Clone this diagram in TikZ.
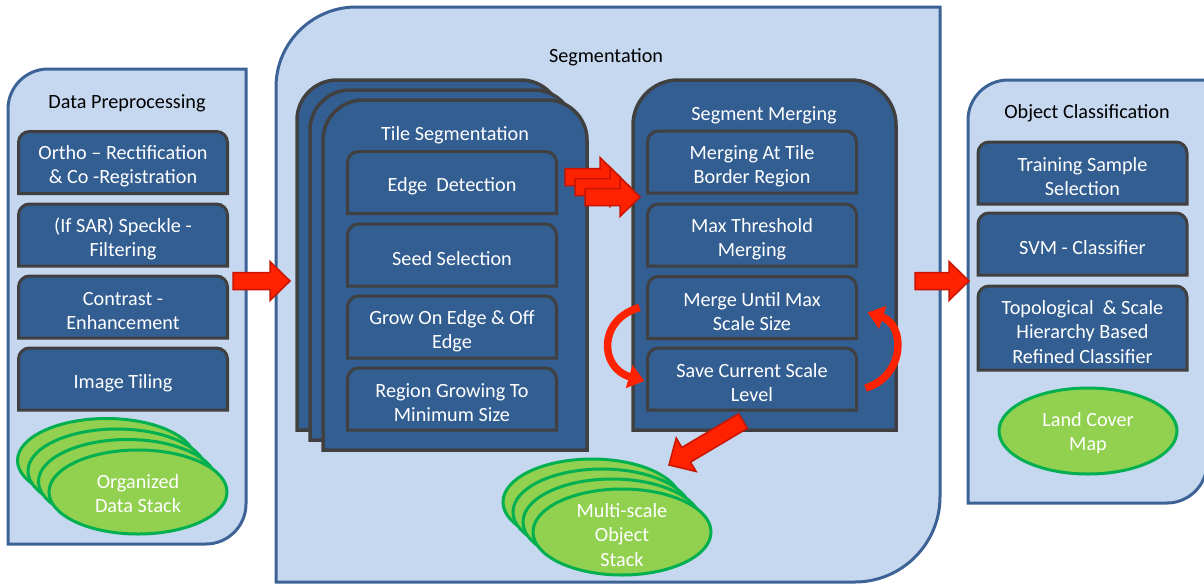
\documentclass[tikz,border=0pt]{standalone}
\usepackage{fontspec}
\setmainfont{Carlito}
\usepackage{xcolor}
\usetikzlibrary{calc, arrows.meta}

\definecolor{panelfill}{HTML}{C6D8EF}
\definecolor{panelline}{HTML}{3D6396}
\definecolor{boxfill}{HTML}{335E92}
\definecolor{boxline}{HTML}{404040}
\definecolor{stackfill}{HTML}{92D050}
\definecolor{stackline}{HTML}{00B050}
\definecolor{arrowfill}{HTML}{FF2200}
\definecolor{arrowline}{HTML}{C81400}

\newcommand{\pxu}{0.02cm}

\pgfdeclarelayer{panels}
\pgfdeclarelayer{stacks}
\pgfdeclarelayer{boxes}
\pgfsetlayers{panels,stacks,boxes,main}

% Outline of a node, lifted by [#1] px, with a radius (px) at each corner: tl, tr, br, bl
\newcommand{\cornershape}[7][0]{%
  \draw[#2]
    ([yshift=(#1-#4)*\pxu]#3.north west)
      .. controls ([yshift=(#1-0.45*#4)*\pxu]#3.north west) and ([xshift=0.45*#4*\pxu, yshift=#1*\pxu]#3.north west) .. ([xshift=#4*\pxu, yshift=#1*\pxu]#3.north west)
    -- ([xshift=-#5*\pxu, yshift=#1*\pxu]#3.north east)
      .. controls ([xshift=-0.45*#5*\pxu, yshift=#1*\pxu]#3.north east) and ([yshift=(#1-0.45*#5)*\pxu]#3.north east) .. ([yshift=(#1-#5)*\pxu]#3.north east)
    -- ([yshift=(#1+#6)*\pxu]#3.south east)
      .. controls ([yshift=(#1+0.45*#6)*\pxu]#3.south east) and ([xshift=-0.45*#6*\pxu, yshift=#1*\pxu]#3.south east) .. ([xshift=-#6*\pxu, yshift=#1*\pxu]#3.south east)
    -- ([xshift=#7*\pxu, yshift=#1*\pxu]#3.south west)
      .. controls ([xshift=0.45*#7*\pxu, yshift=#1*\pxu]#3.south west) and ([yshift=(#1+0.45*#7)*\pxu]#3.south west) .. ([yshift=(#1+#7)*\pxu]#3.south west)
    -- cycle;}

% Fat red arrow from #1 to #2
\newcommand{\blockarrow}[2]{%
  \coordinate (ba_neck) at ($(#2)!0.4cm!(#1)$);
  \draw[blockarr] ($(#1)!0.17cm!90:(#2)$) -- ($(ba_neck)!0.17cm!-90:(#1)$)
    -- ($(ba_neck)!0.39cm!-90:(#1)$) -- (#2) -- ($(ba_neck)!0.39cm!90:(#1)$)
    -- ($(ba_neck)!0.17cm!90:(#1)$) -- ($(#1)!0.17cm!-90:(#2)$) -- cycle;}

\tikzset{
  panelnode/.style={inner sep=0pt, outer sep=0pt},
  boxnode/.style={inner sep=0pt, outer sep=0pt, text=white, align=center,
    minimum width=209*\pxu, minimum height=62*\pxu},
  panel/.style={fill=panelfill, draw=panelline, line width=3*\pxu},
  tilepanel/.style={fill=boxfill, draw=boxline, line width=3.5*\pxu},
  boxshape/.style={fill=boxfill, draw=boxline, line width=3*\pxu},
  stackell/.style={fill=stackfill, draw=stackline, line width=3*\pxu},
  stacklabel/.style={text=white, align=center},
  blockarr/.style={fill=arrowfill, draw=arrowline, line width=1.5*\pxu},
  curvearr/.style={draw=arrowfill, line width=7.5*\pxu, -{Triangle[width=0.46cm, length=0.32cm]}}
}

\begin{document}
\begin{tikzpicture}[x=0.02cm, y=-0.02cm, font=\fontsize{11.5}{13.7}\selectfont]

    \useasboundingbox (0,0) rectangle (1204,586);

    % =========================================================================
    % LEFT: Data Preprocessing
    % =========================================================================
    \node[panelnode, minimum width=238*\pxu, minimum height=475*\pxu] (prep) at (127,306.5) {};
    \begin{pgfonlayer}{panels}
        \cornershape{panel}{prep}{40}{0}{40}{0}
    \end{pgfonlayer}
    \node (prep_title) at (127,103) {Data Preprocessing};

    \node[boxnode] (ortho)    at (123,166.5) {Ortho – Rectification\\\& Co -Registration};
    \node[boxnode] (speckle)  at (123,239)   {(If SAR) Speckle -\\Filtering};
    \node[boxnode] (contrast) at (123,311)   {Contrast -\\Enhancement};
    \node[boxnode] (tiling)   at (123,383)   {Image Tiling};
    \begin{pgfonlayer}{boxes}
        \foreach \b in {ortho, speckle, contrast, tiling}
            {\cornershape[4]{boxshape}{\b}{11}{11}{0}{0}}
    \end{pgfonlayer}

    % Stacked data ellipses
    \foreach \k in {3,2,1,0}
        \draw[stackell] (138-10.5*\k, 492-10.5*\k) ellipse (89 and 42);
    \node[stacklabel] (prep_stack) at (138,494) {Organized\\Data Stack};

    % =========================================================================
    % MIDDLE: Segmentation
    % =========================================================================
    \node[panelnode, minimum width=664*\pxu, minimum height=575*\pxu] (seg) at (608,294.5) {};
    \begin{pgfonlayer}{panels}
        \cornershape{panel}{seg}{80}{0}{85}{0}
    \end{pgfonlayer}
    \node (seg_title) at (606,57) {Segmentation};

    % Tile Segmentation (three stacked sheets)
    \foreach \k/\name in {2/tile_back, 1/tile_mid, 0/tile}
        \node[panelnode, minimum width=264*\pxu, minimum height=350*\pxu] (\name) at (455-13*\k, 275-10*\k) {};
    \begin{pgfonlayer}{stacks}
        \foreach \name in {tile_back, tile_mid, tile}
            {\cornershape{tilepanel}{\name}{40}{40}{0}{0}}
    \end{pgfonlayer}
    \node[text=white] (tile_title) at (455,135) {Tile Segmentation};

    \node[boxnode] (edge)   at (452,186.5) {Edge~ Detection};
    \node[boxnode] (seed)   at (452,259)   {Seed Selection};
    \node[boxnode] (grow)   at (452,331)   {Grow On Edge \& Off\\Edge};
    \node[boxnode] (region) at (452,403)   {Region Growing To\\Minimum Size};

    % Segment Merging
    \node[panelnode, minimum width=263*\pxu, minimum height=350*\pxu] (merge) at (764.5,255) {};
    \begin{pgfonlayer}{stacks}
        \cornershape{tilepanel}{merge}{45}{45}{0}{0}
    \end{pgfonlayer}
    \node[text=white] (merge_title) at (764,115) {Segment Merging};

    \node[boxnode] (border)    at (752,166)   {Merging At Tile\\Border Region};
    \node[boxnode] (thresh)    at (752,239)   {Max Threshold\\Merging};
    \node[boxnode] (mergemax)  at (752,311.5) {Merge Until Max\\Scale Size};
    \node[boxnode] (savescale) at (752,383)   {Save Current Scale\\Level};
    \begin{pgfonlayer}{boxes}
        \foreach \b in {edge, seed, grow, region, border, thresh, mergemax, savescale}
            {\cornershape[4]{boxshape}{\b}{11}{11}{0}{0}}
    \end{pgfonlayer}

    % Loop between merging and saving
    \draw[curvearr] ([xshift=-8*\pxu, yshift=4*\pxu]mergemax.west)
        .. controls +(-42,12) and +(-45,-13) .. ([xshift=-3*\pxu, yshift=2*\pxu]savescale.west);
    \draw[curvearr] ([xshift=9*\pxu, yshift=-5*\pxu]savescale.east)
        .. controls +(40,-12) and +(38,12) .. ([xshift=11*\pxu, yshift=-1*\pxu]mergemax.east);

    % Multi-scale object stack
    \foreach \k in {3,2,1,0}
        \draw[stackell] (622-10*\k, 532-10*\k) ellipse (89 and 43);
    \node[stacklabel] (ms_stack) at (622,535) {Multi-scale\\Object\\Stack};

    % Tile -> Merge (triple arrow)
    \foreach \k in {0,1,2} {
        \coordinate (tile_out\k) at (565+10*\k, 177+10*\k);
        \coordinate (merge_in\k) at (620+10*\k, 177+10*\k);
        \blockarrow{tile_out\k}{merge_in\k}
    }

    % Merge -> stack
    \coordinate (save_out) at (743,421);
    \coordinate (ms_in) at (669,465);
    \blockarrow{save_out}{ms_in}

    % =========================================================================
    % RIGHT: Object Classification
    % =========================================================================
    \node[panelnode, minimum width=239*\pxu, minimum height=423*\pxu] (class) at (1087.5,291.5) {};
    \begin{pgfonlayer}{panels}
        \cornershape{panel}{class}{40}{0}{40}{0}
    \end{pgfonlayer}
    \node (class_title) at (1087,113) {Object Classification};

    \node[boxnode] (training) at (1082.5,177) {Training Sample\\Selection};
    \node[boxnode] (svm)      at (1082.5,248) {SVM - Classifier};
    \node[boxnode, minimum height=84*\pxu] (topo) at (1082.5,332) {Topological~ \& Scale\\Hierarchy Based\\Refined Classifier};
    \begin{pgfonlayer}{boxes}
        \foreach \b in {training, svm, topo}
            {\cornershape[4]{boxshape}{\b}{11}{11}{0}{0}}
    \end{pgfonlayer}

    \draw[stackell] (1088,431) ellipse (89 and 43);
    \node[stacklabel] (landcover) at (1088,433) {Land Cover\\Map};

    % =========================================================================
    % ARROWS BETWEEN STAGES
    % =========================================================================
    \coordinate (prep_out) at (233,281);
    \coordinate (seg_in) at (290,281);
    \blockarrow{prep_out}{seg_in}

    \coordinate (seg_out) at (915,281);
    \coordinate (class_in) at (969,281);
    \blockarrow{seg_out}{class_in}

\end{tikzpicture}
\end{document}
